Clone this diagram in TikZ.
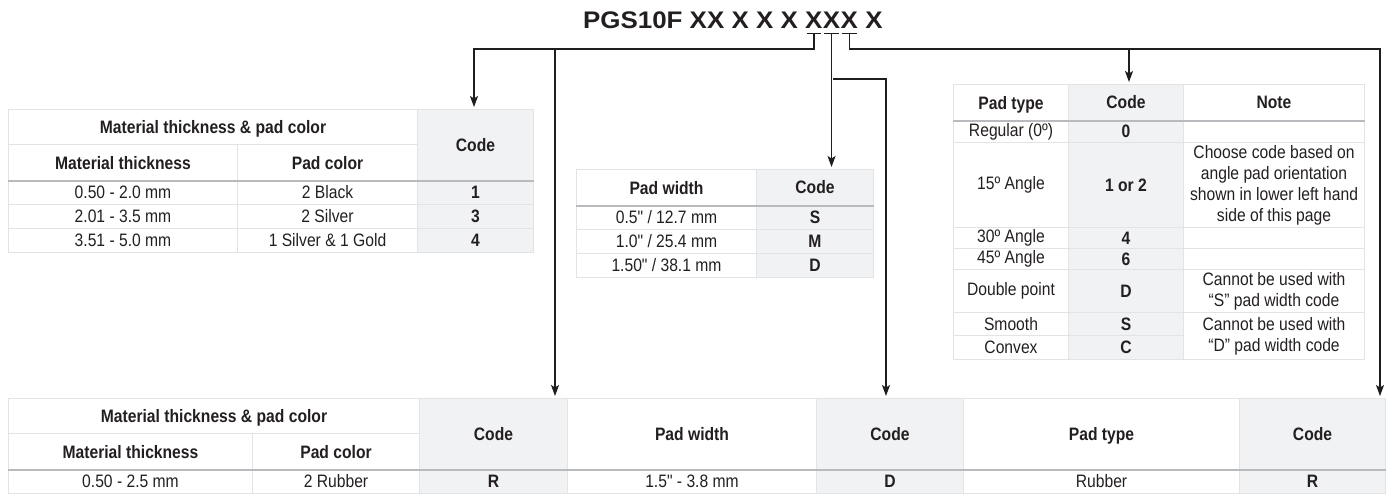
\documentclass[tikz,border=0pt]{standalone}
\usepackage{fontspec}
\setmainfont{Liberation Sans}[FakeStretch=0.87, Ligatures=TeXOff]
\newfontfamily\titlefont{Liberation Sans}[FakeStretch=1.08]
\usetikzlibrary{arrows.meta,positioning}
\definecolor{ink}{RGB}{35,31,32}
\definecolor{codegray}{RGB}{241,242,244}
\definecolor{rulegray}{RGB}{226,227,229}
\definecolor{headrule}{RGB}{185,186,189}
\definecolor{wirecol}{RGB}{30,30,30}

\begin{document}
\begin{tikzpicture}[x=1pt, y=-1pt, font=\fontsize{18}{21}\selectfont, text=ink, >={Stealth[length=11pt,width=8pt,inset=2.5pt]}]
\tikzstyle{tcell}=[draw=rulegray, line width=1pt, anchor=north west, inner sep=0pt, align=center]
\tikzstyle{headcell}=[tcell, text depth=0pt, font=\fontsize{18}{21}\selectfont\bfseries]
\tikzstyle{codecell}=[tcell, fill=codegray, font=\fontsize{18}{21}\selectfont\bfseries]
\tikzstyle{ttlfont}=[inner sep=0pt, font=\titlefont\fontsize{24}{28}\selectfont\bfseries]
\tikzstyle{wire}=[draw=wirecol, line width=1.3pt, shorten >=2pt]
\tikzstyle{tick}=[draw=wirecol, line width=1pt]
\tikzstyle{hrule}=[draw=headrule, line width=2pt]
\useasboundingbox (0,0) rectangle (1391,496);

% part number
\node[ttlfont, anchor=base west] (xa) at (805,28) {X};
\node[ttlfont, right=0pt of xa] (xb) {X};
\node[ttlfont, right=0pt of xb] (xc) {X};
\node[ttlfont, right=7pt of xc] (xd) {X};
\node[ttlfont, left=7pt of xa] (lead) {PGS10F XX X X X};
\draw[tick] ([xshift=1.5pt,yshift=-5pt]xa.south west) -- ([xshift=-1.5pt,yshift=-5pt]xa.south east);
\draw[tick] ([xshift=1.5pt,yshift=-5pt]xb.south west) -- ([xshift=-1.5pt,yshift=-5pt]xb.south east);
\draw[tick] ([xshift=1.5pt,yshift=-5pt]xc.south west) -- ([xshift=-1.5pt,yshift=-5pt]xc.south east);
\coordinate (ta) at ([yshift=-5pt]xa.south);
\coordinate (tb) at ([yshift=-5pt]xb.south);
\coordinate (tc) at ([yshift=-5pt]xc.south);

% thickness & color table
\node[headcell, minimum width=409pt, minimum height=35pt] (mtpc1) at (8,109) {Material thickness \& pad color};
\node[headcell, minimum width=229pt, minimum height=36pt] (mt1) at (8,144) {Material thickness};
\node[headcell, minimum width=180pt, minimum height=36pt] (pc1) at (237,144) {Pad color};
\node[codecell, minimum width=116pt, minimum height=71pt] (code1) at (417,109) {Code};
\node[tcell, minimum width=229pt, minimum height=24pt] (t1a) at (8,180) {0.50 - 2.0 mm};
\node[tcell, minimum width=180pt, minimum height=24pt] (c1a) at (237,180) {2 Black};
\node[codecell, minimum width=116pt, minimum height=24pt] (k1a) at (417,180) {1};
\node[tcell, minimum width=229pt, minimum height=24pt] (t1b) at (8,204) {2.01 - 3.5 mm};
\node[tcell, minimum width=180pt, minimum height=24pt] (c1b) at (237,204) {2 Silver};
\node[codecell, minimum width=116pt, minimum height=24pt] (k1b) at (417,204) {3};
\node[tcell, minimum width=229pt, minimum height=24pt] (t1c) at (8,228) {3.51 - 5.0 mm};
\node[tcell, minimum width=180pt, minimum height=24pt] (c1c) at (237,228) {1 Silver \& 1 Gold};
\node[codecell, minimum width=116pt, minimum height=24pt] (k1c) at (417,228) {4};
\draw[hrule] (mt1.south west) -- (code1.south east);

% pad width table
\node[headcell, minimum width=180pt, minimum height=36pt] (pw2) at (576,169) {Pad width};
\node[codecell, minimum width=117pt, minimum height=36pt] (code2) at (756,169) {Code};
\node[tcell, minimum width=180pt, minimum height=24pt] (w2a) at (576,205) {0.5" / 12.7 mm};
\node[codecell, minimum width=117pt, minimum height=24pt] (k2a) at (756,205) {S};
\node[tcell, minimum width=180pt, minimum height=24pt] (w2b) at (576,229) {1.0" / 25.4 mm};
\node[codecell, minimum width=117pt, minimum height=24pt] (k2b) at (756,229) {M};
\node[tcell, minimum width=180pt, minimum height=24pt] (w2c) at (576,253) {1.50" / 38.1 mm};
\node[codecell, minimum width=117pt, minimum height=24pt] (k2c) at (756,253) {D};
\draw[hrule] (pw2.south west) -- (code2.south east);

% pad type table
\node[headcell, minimum width=115pt, minimum height=36pt] (pt3) at (953,84) {Pad type};
\node[codecell, minimum width=115pt, minimum height=36pt] (code3) at (1068,84) {Code};
\node[headcell, minimum width=181pt, minimum height=36pt] (note3) at (1183,84) {Note};
\node[tcell, minimum width=115pt, minimum height=22pt] (p3a) at (953,120) {Regular (0º)};
\node[codecell, minimum width=115pt, minimum height=22pt] (k3a) at (1068,120) {0};
\node[tcell, minimum width=181pt, minimum height=22pt] (n3a) at (1183,120) {};
\node[tcell, minimum width=115pt, minimum height=85pt] (p3b) at (953,142) {15º Angle};
\node[codecell, minimum width=115pt, minimum height=85pt] (k3b) at (1068,142) {1 or 2};
\node[tcell, minimum width=181pt, minimum height=85pt] (n3b) at (1183,142) {Choose code based on\\angle pad orientation\\shown in lower left hand\\side of this page};
\node[tcell, minimum width=115pt, minimum height=21pt] (p3c) at (953,227) {30º Angle};
\node[codecell, minimum width=115pt, minimum height=21pt] (k3c) at (1068,227) {4};
\node[tcell, minimum width=181pt, minimum height=21pt] (n3c) at (1183,227) {};
\node[tcell, minimum width=115pt, minimum height=21pt] (p3d) at (953,248) {45º Angle};
\node[codecell, minimum width=115pt, minimum height=21pt] (k3d) at (1068,248) {6};
\node[tcell, minimum width=181pt, minimum height=21pt] (n3d) at (1183,248) {};
\node[tcell, minimum width=115pt, minimum height=43pt] (p3e) at (953,269) {Double point};
\node[codecell, minimum width=115pt, minimum height=43pt] (k3e) at (1068,269) {D};
\node[tcell, minimum width=181pt, minimum height=43pt] (n3e) at (1183,269) {Cannot be used with\\“S” pad width code};
\node[tcell, minimum width=115pt, minimum height=23pt] (p3f) at (953,312) {Smooth};
\node[codecell, minimum width=115pt, minimum height=23pt] (k3f) at (1068,312) {S};
\node[tcell, minimum width=115pt, minimum height=24pt] (p3g) at (953,335) {Convex};
\node[codecell, minimum width=115pt, minimum height=24pt] (k3g) at (1068,335) {C};
\node[tcell, minimum width=181pt, minimum height=47pt] (n3f) at (1183,312) {Cannot be used with\\“D” pad width code};
\draw[hrule] (pt3.south west) -- (note3.south east);

% rubber pad table
\node[headcell, minimum width=411pt, minimum height=35pt] (mtpc4) at (8,398) {Material thickness \& pad color};
\node[headcell, minimum width=244pt, minimum height=36pt] (mt4) at (8,433) {Material thickness};
\node[headcell, minimum width=167pt, minimum height=36pt] (pc4) at (252,433) {Pad color};
\node[codecell, minimum width=148pt, minimum height=71pt] (codeA4) at (419,398) {Code};
\node[headcell, minimum width=249pt, minimum height=71pt] (pw4) at (567,398) {Pad width};
\node[codecell, minimum width=147pt, minimum height=71pt] (codeB4) at (816,398) {Code};
\node[headcell, minimum width=276pt, minimum height=71pt] (pt4) at (963,398) {Pad type};
\node[codecell, minimum width=146pt, minimum height=71pt] (codeC4) at (1239,398) {Code};
\node[tcell, minimum width=244pt, minimum height=24pt] (t4) at (8,469) {0.50 - 2.5 mm};
\node[tcell, minimum width=167pt, minimum height=24pt] (c4) at (252,469) {2 Rubber};
\node[codecell, minimum width=148pt, minimum height=24pt] (kA4) at (419,469) {R};
\node[tcell, minimum width=249pt, minimum height=24pt] (w4) at (567,469) {1.5" - 3.8 mm};
\node[codecell, minimum width=147pt, minimum height=24pt] (kB4) at (816,469) {D};
\node[tcell, minimum width=276pt, minimum height=24pt] (p4) at (963,469) {Rubber};
\node[codecell, minimum width=146pt, minimum height=24pt] (kC4) at (1239,469) {R};
\draw[hrule] (mt4.south west) -- (codeC4.south east);

% connectors
\coordinate (busL) at (474,49);
\coordinate (tapA) at (555,49);
\coordinate (tapB) at (833,79);
\coordinate (bendB) at (886,79);
\coordinate (tapC) at (1129,49);
\coordinate (busR) at (1380,49);
\draw[wire,->] (ta) |- (busL) -- (busL |- code1.north);
\draw[wire,->] (tapA) -- (tapA |- codeA4.north);
\draw[wire,->] (tb) -- (tb |- code2.north);
\draw[wire,->] (tapB) -- (bendB) -- (bendB |- codeB4.north);
\draw[wire,->] (tc) |- (busR) -- (busR |- codeC4.north);
\draw[wire,->] (tapC) -- (tapC |- code3.north);
\end{tikzpicture}
\end{document}
